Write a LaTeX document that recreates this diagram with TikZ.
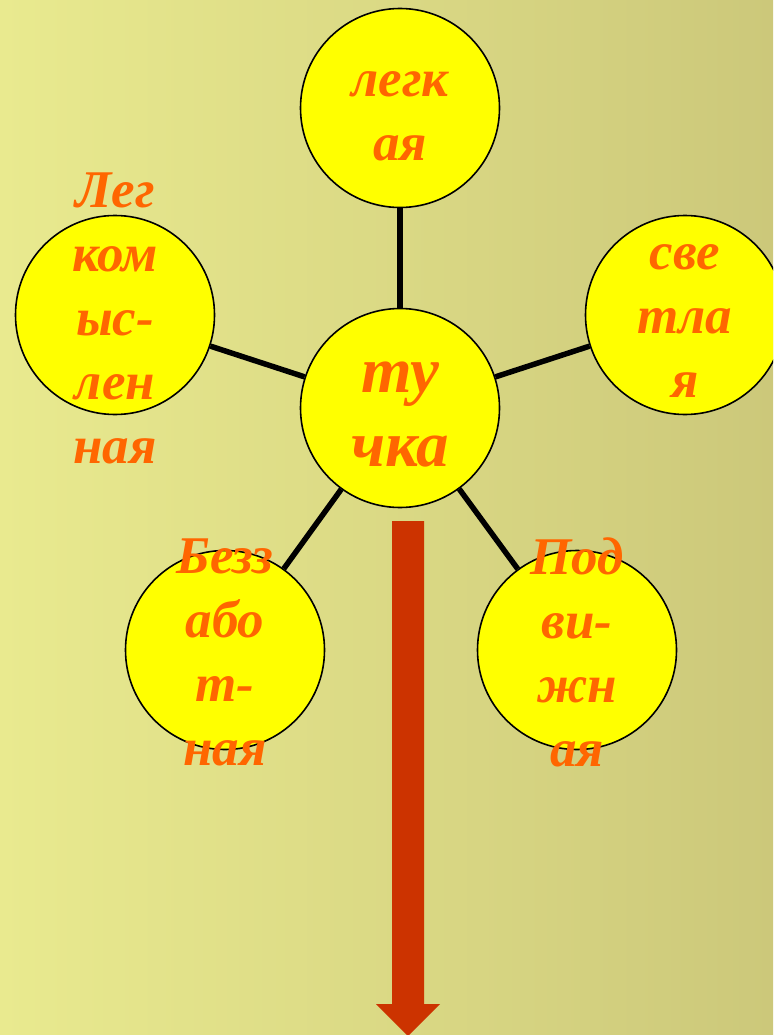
\documentclass[tikz,border=0pt]{standalone}
\usepackage{fontspec}
\setmainfont{Liberation Serif}
\definecolor{bgL}{HTML}{E9EA8F}
\definecolor{bgR}{HTML}{CCC87A}
\definecolor{txtor}{HTML}{FF6600}
\definecolor{arrowred}{HTML}{CC3300}
\definecolor{bubfill}{RGB}{255,255,0}
\begin{document}
\begin{tikzpicture}[x=1pt,y=-1pt,
  bub/.style={circle,draw=black,line width=1.6pt,fill=bubfill,minimum size=199pt,inner sep=0pt},
  lbl/.style={text=txtor,font=\fontsize{53}{64}\selectfont\bfseries\itshape,align=center,inner sep=0pt},
  biglbl/.style={text=txtor,font=\fontsize{65}{74}\selectfont\bfseries\itshape,align=center,inner sep=0pt},
  conn/.style={line width=5.5pt,draw=black}]
\clip (0,0) rectangle (773,1035);
\shade[left color=bgL,right color=bgR] (0,0) rectangle (773,1035);
% circles
\node[bub] (top) at (400,108) {};
\node[bub] (mid) at (400,408) {};
\node[bub] (lft) at (115,315) {};
\node[bub] (rgt) at (685,315) {};
\node[bub] (bl) at (225,650) {};
\node[bub] (br) at (577,650) {};
% connectors
\draw[conn] (mid) -- (top);
\draw[conn] (mid) -- (lft);
\draw[conn] (mid) -- (rgt);
\draw[conn] (mid) -- (bl);
\draw[conn] (mid) -- (br);
% texts
\node[lbl] (ttop) at (400,116) {легк\\ая};
\node[biglbl] (tmid) at (400,415) {ту\\чка};
\node[lbl] (tlft) at (115,318) {Лег\\ком\\ыс-\\лен\\ная};
\node[lbl] (trgt) at (685,321) {све\\тла\\я};
\node[lbl] (tbl) at (225,652) {Безз\\або\\т-\\ная};
\node[lbl] (tbr) at (577,652) {Под\\ви-\\жн\\ая};
% arrow
\fill[arrowred] (392,521) -- (424,521) -- (424,1004) -- (440,1004) -- (408,1036) -- (376,1004) -- (392,1004) -- cycle;
\end{tikzpicture}
\end{document}
